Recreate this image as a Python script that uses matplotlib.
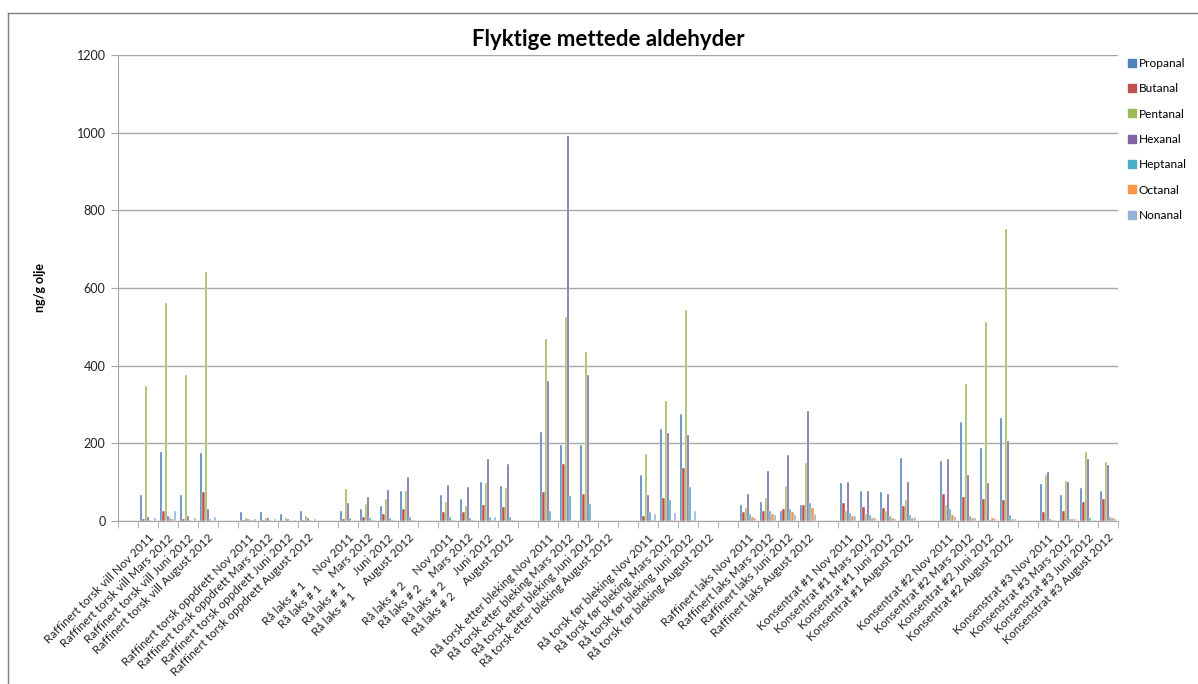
import matplotlib.pyplot as plt
import numpy as np
from matplotlib.lines import Line2D

plt.rcParams['font.family'] = ['Lato', 'DejaVu Sans']

periods = ['Nov 2011', 'Mars 2012', 'Juni 2012', 'August 2012']
samples = [
    'Raffinert torsk vill ',
    'Raffinert torsk oppdrett ',
    'Rå laks # 1     ',
    'Rå laks # 2     ',
    'Rå torsk etter bleking ',
    'Rå torsk før bleking ',
    'Raffinert laks ',
    'Konsentrat #1 ',
    'Konsentrat #2 ',
    'Konsenstrat #3 ',
]

series = ['Propanal', 'Butanal', 'Pentanal', 'Hexanal', 'Heptanal', 'Octanal', 'Nonanal']
colors = ['#4F81BD', '#C0504D', '#9BBB59', '#8064A2', '#4BACC6', '#F79646', '#95B3D7']

# ng/g olje, one row per sample and period: Propanal .. Nonanal
propanal = [67, 178, 66, 174,   24, 24, 17, 26,   27, 32, 39, 78,   67, 57, 100, 90,
            228, 195, 195, 0,   119, 237, 275, 0,  42, 50, 27, 42,   98, 78, 75, 161,
            155, 254, 189, 265,  94, 68, 84, 76]
butanal = [5, 26, 4, 74,   2, 2, 1, 3,   4, 11, 18, 31,   22, 22, 40, 35,
           75, 146, 70, 0,   13, 58, 137, 0,   22, 27, 31, 40,   47, 36, 33, 39,
           70, 63, 56, 54,   24, 26, 48, 56]
pentanal = [348, 562, 375, 640,   8, 9, 7, 12,   83, 45, 57, 78,   50, 39, 97, 85,
            469, 525, 435, 0,   173, 309, 543, 0,   34, 59, 90, 149,   26, 19, 26, 53,
            42, 352, 513, 753,   118, 104, 178, 151]
hexanal = [10, 13, 13, 31,   5, 7, 6, 7,   47, 61, 81, 113,   92, 88, 160, 148,
           361, 992, 375, 0,   66, 226, 222, 0,   70, 130, 171, 282,   100, 78, 70, 100,
           159, 118, 98, 206,   126, 100, 160, 143]
heptanal = [3, 8, 2, 5,   3, 3, 1, 2,   8, 8, 7, 10,   10, 9, 11, 10,
            25, 65, 43, 0,   23, 55, 87, 0,   17, 25, 31, 47,   21, 15, 14, 15,
            30, 12, 3, 15,   6, 4, 9, 10]
octanal = [1, 4, 1, 1,   2, 1, 1, 1,   1, 2, 2, 2,   2, 2, 2, 2,
           1, 1, 1, 0,   2, 2, 2, 0,   11, 17, 22, 33,   13, 9, 9, 8,
           15, 9, 7, 6,   3, 4, 1, 7]
nonanal = [8, 26, 8, 10,   6, 4, 2, 5,   3, 2, 3, 3,   3, 3, 10, 3,
           2, 2, 2, 0,   17, 21, 27, 0,   9, 15, 15, 19,   13, 7, 5, 10,
           11, 8, 5, 5,   2, 4, 2, 6]

values = [propanal, butanal, pentanal, hexanal, heptanal, octanal, nonanal]

# every sample block is preceded by one empty category
labels = []
data = [[] for _ in series]
for i, s in enumerate(samples):
    labels.append('')
    for d in data:
        d.append(np.nan)
    for j, p in enumerate(periods):
        labels.append(s + p)
        for k in range(len(series)):
            data[k].append(values[k][i * 4 + j])

n = len(labels)
x = np.arange(n)

fig = plt.figure(figsize=(11.98, 6.84), dpi=100)
ax = fig.add_axes([118 / 1198, 1 - 521 / 684, 1000 / 1198, 466 / 684])

group_w = 0.8
bar_w = group_w / len(series)
for k, name in enumerate(series):
    offs = -group_w / 2 + bar_w * (k + 0.5)
    ax.bar(x + offs, data[k], width=bar_w, color=colors[k], label=name,
           edgecolor='white', linewidth=0.3)

ax.set_xlim(-0.5, n - 0.5)
ax.set_ylim(0, 1200)
ax.set_yticks(range(0, 1201, 200))
ax.yaxis.grid(True, color='#A6A6A6', linewidth=1)
ax.set_axisbelow(True)

ax.set_xticks(x)
ax.set_xticklabels(labels, rotation=45, ha='right', rotation_mode='anchor', fontsize=8.6, color='#222222')
ax.set_xticks(np.arange(-0.5, n, 1), minor=True)
ax.tick_params(axis='x', which='major', length=0, pad=8)
ax.tick_params(axis='x', which='minor', length=5, color='#A6A6A6')
ax.tick_params(axis='y', length=5, color='#A6A6A6', labelsize=9, pad=4, labelcolor='#222222')

for side in ['top', 'right']:
    ax.spines[side].set_visible(False)
for side in ['left', 'bottom']:
    ax.spines[side].set_color('#A6A6A6')

ax.set_ylabel('ng/g olje', fontsize=9, fontweight='bold', labelpad=22)
fig.text(608 / 1198, 1 - 40 / 684, 'Flyktige mettede aldehyder', ha='center', va='center',
         fontsize=16, fontweight='bold')

handles = [Line2D([], [], marker='s', linestyle='', color=c, markersize=6) for c in colors]
fig.legend(handles, series, loc='upper left', bbox_to_anchor=(1128 / 1198, 1 - 58 / 684),
           frameon=False, fontsize=8.6, handlelength=0.6, handletextpad=0.3,
           labelspacing=1.2, borderaxespad=0, borderpad=0)

# chart frame
fig.add_artist(Line2D([8 / 1198, 8 / 1198], [0, 1 - 12.7 / 684], color='#7F7F7F', linewidth=1,
                      transform=fig.transFigure))
fig.add_artist(Line2D([8 / 1198, 1], [1 - 12.7 / 684, 1 - 12.7 / 684], color='#7F7F7F', linewidth=1,
                      transform=fig.transFigure))

fig.savefig('out.png', dpi=100)
